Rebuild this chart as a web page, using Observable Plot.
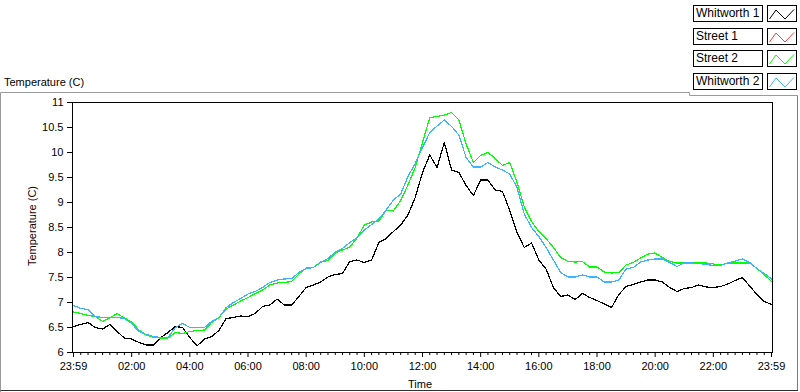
<!DOCTYPE html>
<html><head><meta charset="utf-8">
<script src="https://cdn.jsdelivr.net/npm/d3@7"></script>
<script src="https://cdn.jsdelivr.net/npm/@observablehq/plot@0.6"></script>
<style>
html,body{margin:0;padding:0;background:#fff;}
#wrap{position:relative;width:800px;height:392px;overflow:hidden;font-family:"Liberation Sans",Arial,sans-serif;color:#000;}
.abs{position:absolute;white-space:nowrap;}
#chart{position:absolute;left:0;top:95px;}
.lgbox{position:absolute;border:1px solid #000;background:#fff;box-sizing:border-box;}
</style></head>
<body><div id="wrap"></div>
<script>
// time of day in hours (sampled every 15 min)
const hours = [0,0.25,0.5,0.75,1,1.25,1.5,1.75,2,2.25,2.5,2.75,3,3.25,3.5,3.75,4,4.25,4.5,4.75,5,5.25,5.5,5.75,6,6.25,6.5,6.75,7,7.25,7.5,7.75,8,8.25,8.5,8.75,9,9.25,9.5,9.75,10,10.25,10.5,10.75,11,11.25,11.5,11.75,12,12.25,12.5,12.75,13,13.25,13.5,13.75,14,14.25,14.5,14.75,15,15.25,15.5,15.75,16,16.25,16.5,16.75,17,17.25,17.5,17.75,18,18.25,18.5,18.75,19,19.25,19.5,19.75,20,20.25,20.5,20.75,21,21.25,21.5,21.75,22,22.25,22.5,22.75,23,23.25,23.5,23.75,24];

const whitworth1 = [6.52,6.56,6.60,6.50,6.47,6.56,6.42,6.29,6.27,6.20,6.15,6.15,6.30,6.40,6.52,6.50,6.30,6.13,6.27,6.32,6.44,6.68,6.70,6.73,6.72,6.78,6.92,6.95,7.07,6.95,6.95,7.12,7.30,7.35,7.41,7.51,7.56,7.58,7.82,7.85,7.80,7.85,8.20,8.28,8.42,8.55,8.75,9.10,9.60,9.95,9.70,10.20,9.65,9.60,9.34,9.14,9.45,9.45,9.25,9.22,8.84,8.40,8.10,8.19,7.85,7.67,7.30,7.12,7.15,7.06,7.18,7.10,7.04,6.97,6.90,7.16,7.32,7.36,7.41,7.45,7.45,7.41,7.30,7.22,7.28,7.30,7.35,7.31,7.30,7.32,7.37,7.44,7.50,7.33,7.16,7.02,6.96];

const street1 = []; // listed in the legend, no samples plotted

const street2 = [6.81,6.78,6.74,6.72,6.62,6.69,6.78,6.69,6.61,6.45,6.35,6.30,6.29,6.29,6.40,6.38,6.42,6.44,6.45,6.60,6.70,6.87,6.95,7.03,7.10,7.18,7.25,7.35,7.39,7.40,7.42,7.57,7.69,7.70,7.81,7.84,7.99,8.05,8.11,8.29,8.55,8.61,8.63,8.85,8.83,9.04,9.35,9.70,10.20,10.70,10.72,10.75,10.80,10.65,10.17,9.80,9.94,10.00,9.88,9.74,9.80,9.40,8.91,8.62,8.42,8.28,8.10,7.90,7.82,7.81,7.82,7.71,7.71,7.61,7.59,7.60,7.75,7.80,7.89,7.97,7.99,7.90,7.82,7.79,7.79,7.79,7.79,7.79,7.77,7.75,7.79,7.79,7.79,7.79,7.68,7.56,7.42];

const whitworth2 = [6.94,6.88,6.86,6.72,6.70,6.70,6.70,6.68,6.58,6.42,6.36,6.32,6.30,6.30,6.50,6.58,6.50,6.50,6.50,6.62,6.70,6.90,7.00,7.08,7.17,7.22,7.30,7.40,7.45,7.47,7.48,7.60,7.68,7.70,7.80,7.88,8.01,8.08,8.20,8.30,8.45,8.56,8.67,8.85,9.05,9.17,9.52,9.78,10.10,10.40,10.53,10.65,10.52,10.35,9.90,9.71,9.71,9.80,9.71,9.65,9.57,9.30,8.77,8.50,8.32,8.10,7.85,7.60,7.51,7.51,7.55,7.51,7.51,7.41,7.41,7.45,7.67,7.70,7.81,7.85,7.87,7.87,7.80,7.72,7.79,7.79,7.78,7.76,7.74,7.74,7.79,7.83,7.87,7.80,7.68,7.58,7.47];

const seriesNames = ["Whitworth 1", "Street 1", "Street 2", "Whitworth 2"];
const seriesColors = ["#000000", "#ff3a3a", "#00ff00", "#3cb4ff"];
const seriesValues = [whitworth1, street1, street2, whitworth2];

const yTicks = [6, 6.5, 7, 7.5, 8, 8.5, 9, 9.5, 10, 10.5, 11];
const yTickLabels = ["6", "6.5", "7", "7.5", "8", "8.5", "9", "9.5", "10", "10.5", "11"];
const xMajorTicks = [0, 2, 4, 6, 8, 10, 12, 14, 16, 18, 20, 22, 24];
const xTickLabels = ["23:59", "02:00", "04:00", "06:00", "08:00", "10:00", "12:00", "14:00", "16:00", "18:00", "20:00", "22:00", "23:59"];
const xMinorTicks = d3.range(0, 24.001, 0.25).filter(t => !xMajorTicks.includes(t));

const titleText = "Temperature (C)";
const yLabel = "Temperature (C)";
const xLabel = "Time";

// build table
const rows = [];
seriesNames.forEach((name, k) => {
  const vals = seriesValues[k];
  vals.forEach((v, i) => rows.push({series: name, h: hours[i], v}));
});

const wrap = document.getElementById("wrap");

const chart = Plot.plot({
  width: 800,
  height: 297,
  marginLeft: 72,
  marginRight: 28,
  marginTop: 7,
  marginBottom: 40,
  style: {fontFamily: "'Liberation Sans', Arial, sans-serif", fontSize: "11px", color: "#000", background: "transparent", overflow: "visible"},
  x: {domain: [0, 24], insetLeft: 1, insetRight: 1, axis: null},
  y: {domain: [6, 11], axis: null},
  color: {domain: seriesNames, range: seriesColors},
  marks: [
    Plot.line(rows, {x: "h", y: "v", z: "series", stroke: "series", strokeWidth: 1.2, shapeRendering: "crispEdges"}),
    Plot.axisY(yTicks, {anchor: "left", tickSize: 5, tickPadding: 4, tickFormat: d => yTickLabels[yTicks.indexOf(d)], label: null, stroke: "#000", fill: "#000"}),
    Plot.axisX(xMinorTicks, {anchor: "bottom", tickSize: 3, tickFormat: () => "", label: null, stroke: "#000"}),
    Plot.axisX(xMajorTicks, {anchor: "bottom", tickSize: 5, tickPadding: 5, tickFormat: d => xTickLabels[xMajorTicks.indexOf(d)], label: null, stroke: "#000", fill: "#000"}),
    Plot.frame({stroke: "#000"})
  ]
});
chart.id = "chart";
wrap.appendChild(chart);

// decorative panel borders
const ns = "http://www.w3.org/2000/svg";
const deco = document.createElementNS(ns, "svg");
deco.setAttribute("width", 800); deco.setAttribute("height", 392);
deco.style.position = "absolute"; deco.style.left = "0"; deco.style.top = "0"; deco.style.pointerEvents = "none";
deco.innerHTML =
  '<polyline points="0.5,392 0.5,92.5 689.5,92.5 689.5,95.5 797.5,95.5" fill="none" stroke="#9a9a9a"/>' +
  '<line x1="797.5" y1="95.5" x2="797.5" y2="390.5" stroke="#7a7a7a"/>' +
  '<line x1="0.5" y1="390.5" x2="798" y2="390.5" stroke="#303030"/>';
wrap.appendChild(deco);

// top-left title
const t = document.createElement("div");
t.className = "abs"; t.textContent = titleText;
Object.assign(t.style, {left: "4px", top: "75px", fontSize: "11px", lineHeight: "14px"});
wrap.appendChild(t);

// y axis title
const yl = document.createElement("div");
yl.className = "abs"; yl.textContent = yLabel;
Object.assign(yl.style, {left: "-28px", top: "219px", width: "120px", textAlign: "center", fontSize: "11px", lineHeight: "14px", transform: "rotate(-90deg)", color: "#1a0000"});
wrap.appendChild(yl);

// x axis title
const xl = document.createElement("div");
xl.className = "abs"; xl.textContent = xLabel;
Object.assign(xl.style, {left: "408px", top: "377px", fontSize: "11px", lineHeight: "14px"});
wrap.appendChild(xl);

// legend
seriesNames.forEach((name, k) => {
  const top = 5 + k * 22.7;
  const lb = document.createElement("div");
  lb.className = "lgbox";
  Object.assign(lb.style, {left: "693px", top: top + "px", width: "70px", height: "17px", fontSize: "12px", lineHeight: "15px", paddingLeft: "2px"});
  lb.textContent = name;
  wrap.appendChild(lb);
  const ib = document.createElement("div");
  ib.className = "lgbox";
  Object.assign(ib.style, {left: "767px", top: top + "px", width: "30px", height: "17px"});
  ib.innerHTML = '<svg width="28" height="15" style="position:absolute;left:0;top:0"><polyline points="1.5,13 8,4 17,13 26,3.5" fill="none" stroke="' + seriesColors[k] + '" stroke-width="1"/></svg>';
  wrap.appendChild(ib);
});
</script>
</body></html>
